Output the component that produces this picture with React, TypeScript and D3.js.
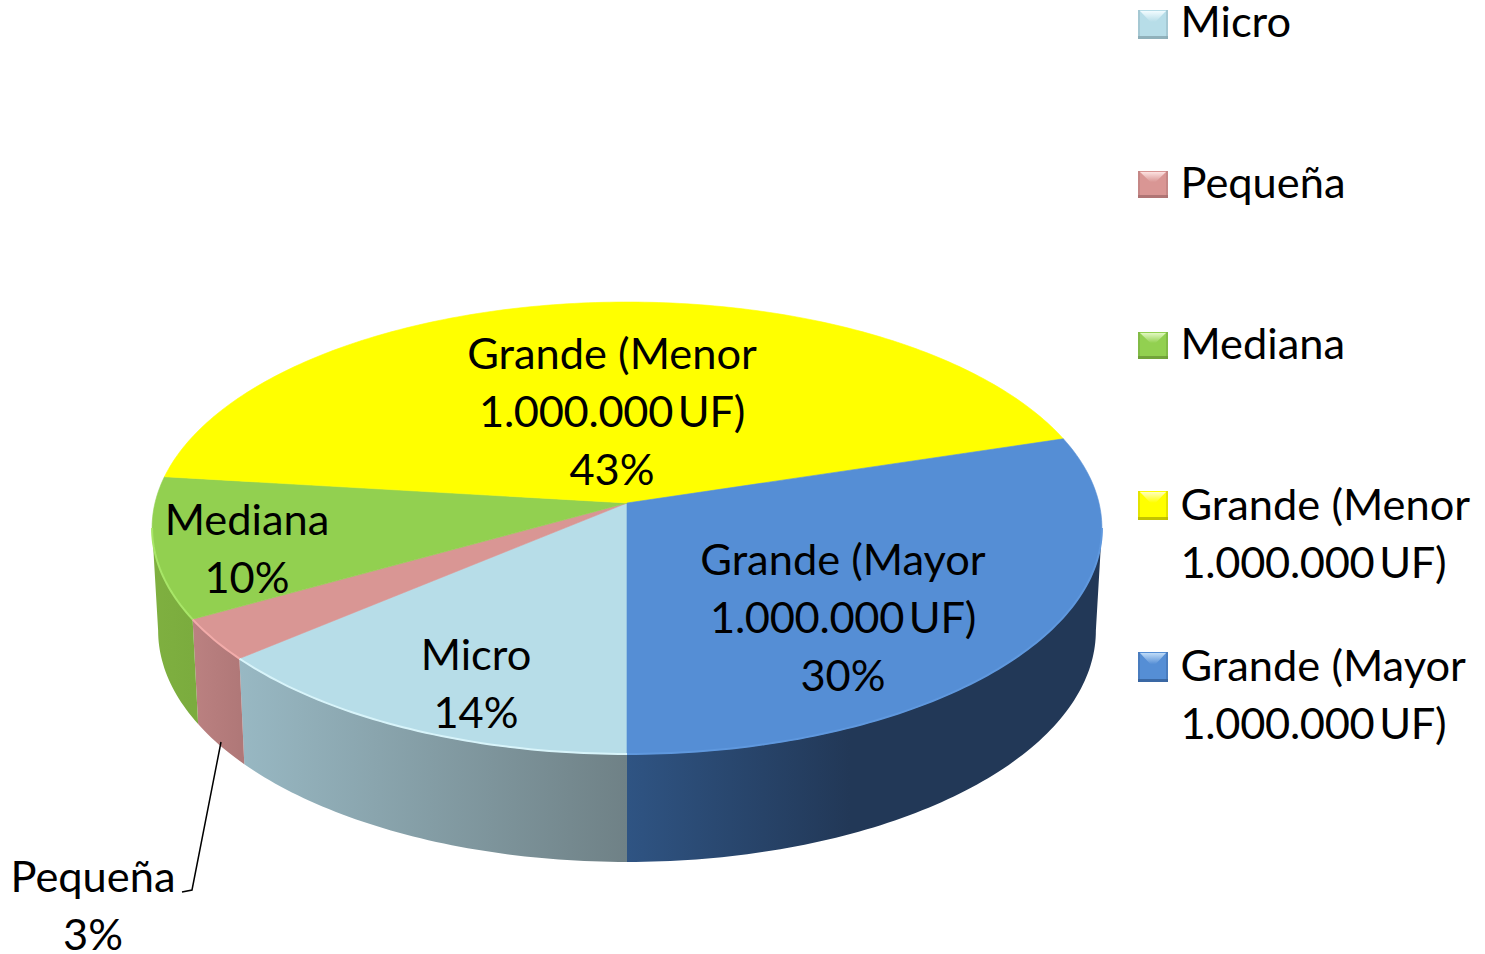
import React from 'react';
import * as d3 from 'd3';

const categories = ['Micro', 'Pequeña', 'Mediana', 'Grande (Menor 1.000.000 UF)', 'Grande (Mayor 1.000.000 UF)'];
const shares = [13.8, 3.0, 10.1, 43.3, 29.8];
const topColors = ['#b7dde8', '#d99694', '#92d050', '#ffff00', '#558ed5'];
const rimColors = ['#d8f4fa', '#f2acaa', '#a8e668', '#ffff00', '#5f98de'];
const wallStart = ['#98b8c3', '#bb8181', '#7fb040', '#cccc00', '#2f5483'];
const wallEnd = ['#6f8186', '#b07878', '#7bac3e', '#cccc00', '#223857'];
const keyLight = ['#f2fcff', '#fde2e1', '#e2f8c0', '#ffffc0', '#c0dcf8'];
const keyDark = ['#8aa9b3', '#a87070', '#6c9c36', '#b8b800', '#36619b'];

// multi-line text as it wraps in the chart
const sliceLines = [['Micro', '14%'], ['Pequeña', '3%'], ['Mediana', '10%'], ['Grande (Menor', '1.000.000 UF)', '43%'], ['Grande (Mayor', '1.000.000 UF)', '30%']];
const legendLines = [['Micro'], ['Pequeña'], ['Mediana'], ['Grande (Menor', '1.000.000 UF)'], ['Grande (Mayor', '1.000.000 UF)']];

// layout only
const labelX = [476, 93, 247, 612, 843];
const labelY = [670, 892, 535, 368.5, 574.5];
const legendY = [37, 198, 359, 520, 681];
const keyY = [10, 171, 332, 491, 652];
const keyH = [29, 27, 27, 29, 30];

const FONT = 'Lato, Carlito, Calibri, sans-serif';
const FONT_SIZE = 43.4;
const LINE = 58;

const cx = 627;
const k = 0.1106; // perspective: the back of the disc is further away

// disc angle -> screen point, a=0 is the back, clockwise
const project = (a: number, rx: number, ry: number, apex: number): [number, number] => {
  const u = Math.sin(a);
  const v = Math.cos(a);
  const w = 1 + k * v;
  return [cx + (rx * u) / w, apex - (ry * v) / w];
};
const top = (a: number) => project(a, 472, 223.2, 503);
const bottom = (a: number) => project(a, 466, 228.5, 605);

const pie = d3.pie<number>().sort(null).startAngle(Math.PI).endAngle(3 * Math.PI);
const slices = pie(shares);
const line = d3.line();

const samples = (a0: number, a1: number) => {
  const n = Math.max(2, Math.ceil(Math.abs(a1 - a0) * 60));
  return d3.range(n + 1).map((i) => a0 + ((a1 - a0) * i) / n);
};

// angles where the outer wall faces the viewer
const extreme = Math.acos(k);
const leftLimit = Math.PI + extreme;
const rightLimit = 2 * Math.PI + Math.PI - extreme;

const visibleRange = (a0: number, a1: number): [number, number] | null => {
  if (a1 <= leftLimit) return [a0, a1];
  if (a0 < leftLimit) return [a0, leftLimit];
  if (a1 <= rightLimit) return null;
  return [Math.max(a0, rightLimit), a1];
};

// the number line has a narrow space in the original
const wordGap = (t: string) => (t.startsWith('1.') ? -6 : 0);
const letterGap = (t: string) => (t.startsWith('1.') ? -0.3 : 0);

const App = () => {
  return (
    <svg width={1485} height={954} style={{ position: 'absolute', left: 0, top: 0, display: 'block', background: '#fff' }}>
      <defs>
        {slices.map((s, i) => {
          const r = visibleRange(s.startAngle, s.endAngle);
          if (!r) return null;
          const ends = [top(r[0])[0], top(r[1])[0]];
          const isBlue = i === 4;
          return (
            <linearGradient
              key={i}
              id={`wall-${i}`}
              gradientUnits="userSpaceOnUse"
              x1={isBlue ? 627 : d3.min(ends)}
              x2={isBlue ? 850 : d3.max(ends)}
              y1={0}
              y2={0}
            >
              <stop offset="0" stopColor={wallStart[i]} />
              <stop offset="1" stopColor={wallEnd[i]} />
            </linearGradient>
          );
        })}
        {categories.map((c, i) => (
          <linearGradient key={c} id={`key-top-${i}`} x1="0" x2="0" y1="0" y2="1">
            <stop offset="0" stopColor={keyLight[i]} />
            <stop offset="0.8" stopColor={topColors[i]} />
          </linearGradient>
        ))}
      </defs>

      {slices.map((s, i) => {
        const r = visibleRange(s.startAngle, s.endAngle);
        if (!r) return null;
        const a = samples(r[0], r[1]);
        const d = line([...a.map(top), ...a.slice().reverse().map(bottom)]) + 'Z';
        return <path key={i} d={d} fill={`url(#wall-${i})`} />;
      })}

      {slices.map((s, i) => {
        const arc = samples(s.startAngle, s.endAngle).map(top);
        const d = line([[cx, 503], ...arc]) + 'Z';
        return <path key={i} d={d} fill={topColors[i]} stroke={topColors[i]} strokeWidth={0.6} />;
      })}

      {slices.map((s, i) => {
        const r = visibleRange(s.startAngle, s.endAngle);
        if (!r) return null;
        return <path key={i} d={line(samples(r[0], r[1]).map(top)) as string} fill="none" stroke={rimColors[i]} strokeWidth={2} />;
      })}

      <polyline points="221,742 192,890 182,892" fill="none" stroke="#000" strokeWidth={1.5} />

      <g fontFamily={FONT} fontSize={FONT_SIZE} fill="#000" textAnchor="middle">
        {sliceLines.map((lines, i) => (
          <text key={i} x={labelX[i]} y={labelY[i]}>
            {lines.map((t, j) => (
              <tspan key={j} x={labelX[i]} y={labelY[i] + j * LINE} wordSpacing={wordGap(t)} letterSpacing={letterGap(t)}>{t}</tspan>
            ))}
          </text>
        ))}
      </g>

      {categories.map((c, i) => {
        const x0 = 1138;
        const x1 = 1168;
        const y0 = keyY[i];
        const y1 = y0 + keyH[i];
        const mx = (x0 + x1) / 2;
        const my = (y0 + y1) / 2;
        return (
          <g key={c}>
            <rect x={x0} y={y0} width={x1 - x0} height={y1 - y0} fill={topColors[i]} />
            <polygon points={`${x0 + 2},${y0 + 1} ${x1 - 2},${y0 + 1} ${mx},${my}`} fill={`url(#key-top-${i})`} />
            <rect x={x0} y={y1 - 3} width={x1 - x0} height={3} fill={keyDark[i]} opacity={0.85} />
            <rect x={x0} y={y0} width={2} height={y1 - y0} fill={keyDark[i]} opacity={0.4} />
            <rect x={x1 - 2} y={y0} width={2} height={y1 - y0} fill={keyDark[i]} opacity={0.4} />
          </g>
        );
      })}

      <g fontFamily={FONT} fontSize={FONT_SIZE} fill="#000">
        {legendLines.map((lines, i) =>
          lines.map((t, j) => (
            <text key={`${i}-${j}`} x={1180.5} y={legendY[i] + j * LINE} wordSpacing={wordGap(t)} letterSpacing={letterGap(t)}>{t}</text>
          ))
        )}
      </g>
    </svg>
  );
};

export default App;
